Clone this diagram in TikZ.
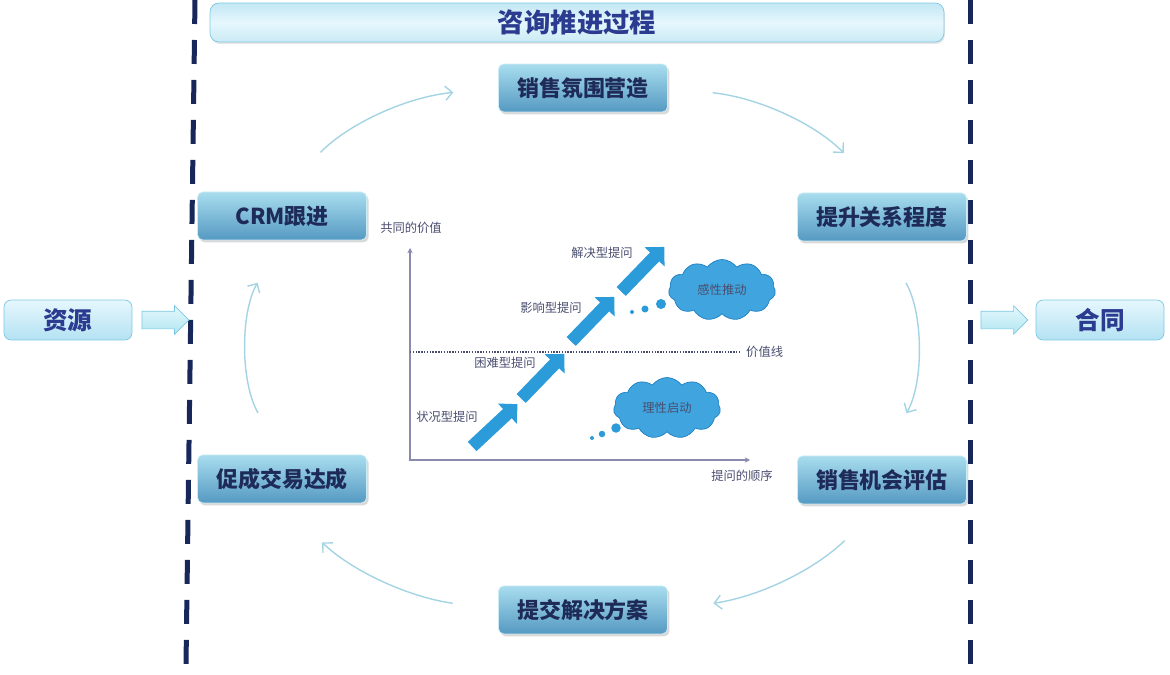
\documentclass[tikz,border=0pt]{standalone}
\usepackage{fontspec}
\newfontfamily\cjk{Noto Sans CJK SC}
\usepackage{tikz}
\usetikzlibrary{positioning, shapes.arrows, shapes.symbols, shadows, arrows.meta}

\definecolor{navy}{HTML}{17275A}
\definecolor{steplight}{HTML}{A8DDEE}
\definecolor{stepdark}{HTML}{5599C2}
\definecolor{steptext}{HTML}{1E2B58}
\definecolor{endlight}{HTML}{E6F7FD}
\definecolor{enddark}{HTML}{B4E2F3}
\definecolor{endedge}{HTML}{7CC8E4}
\definecolor{endtext}{HTML}{2B3B90}
\definecolor{feedfill}{HTML}{BDEEF3}
\definecolor{cycleblue}{HTML}{A4D4E3}
\definecolor{skyblue}{HTML}{2B9BDA}
\definecolor{cloudedge}{HTML}{1E7FC2}
\definecolor{axisgray}{HTML}{8A8AAE}
\definecolor{labelgray}{HTML}{4A4E70}

\begin{document}
\begin{tikzpicture}[x=0.02cm, y=0.02cm, node distance=3cm, on grid, >={Straight Barb[length=4pt, width=8pt]},
    phase/.style={draw=steplight!60!white, rounded corners=3pt, top color=steplight, bottom color=stepdark,
        minimum width=3.38cm, minimum height=0.96cm, text=steptext, font=\cjk\bfseries\fontsize{12.5}{14}\selectfont,
        drop shadow={opacity=0.3, shadow xshift=0.04cm, shadow yshift=-0.05cm}},
    endpoint/.style={draw=endedge, rounded corners=4pt, top color=endlight, bottom color=enddark,
        minimum width=2.56cm, minimum height=0.8cm, text=endtext, font=\cjk\bfseries\fontsize{14}{16}\selectfont},
    feed/.style={single arrow, draw=endedge, top color=endlight, bottom color=feedfill!80!endedge, inner sep=0.17cm,
        minimum height=0.94cm, single arrow head extend=0.11cm},
    flow/.style={->, draw=cycleblue, line width=0.8pt},
    qarrow/.style={single arrow, fill=skyblue, inner sep=0.12cm,
        minimum height=1.24cm, single arrow head extend=0.15cm},
    qlabel/.style={text=labelgray, font=\cjk\fontsize{7}{8}\selectfont},
    thought/.style={cloud, cloud puffs=11, cloud puff arc=110, aspect=1.7, fill=skyblue!90!white, draw=cloudedge,
        minimum width=2.14cm, minimum height=1.22cm, inner sep=0pt, text=labelgray, font=\cjk\fontsize{7}{8}\selectfont},
    dot/.style={circle, fill=skyblue, inner sep=0pt}]

    \useasboundingbox (0,0) rectangle (1170,674);

    % boundary lines
    \draw[navy, line width=0.1cm, dash pattern=on 0.48cm off 0.32cm] (195,674) -- (186,9);
    \draw[navy, line width=0.1cm, dash pattern=on 0.48cm off 0.32cm] (970,674) -- (970,9);

    \node[draw=endedge, rounded corners=5pt, top color=steplight!70!white, bottom color=steplight!60!white, middle color=endlight,
        minimum width=14.68cm, minimum height=0.78cm, text=endtext, font=\cjk\bfseries\fontsize{15}{17}\selectfont,
        drop shadow={opacity=0.2, shadow xshift=0.02cm, shadow yshift=-0.04cm}] (head) at (577,651.5) {咨询推进过程};

    % process steps
    \node[phase] (p_1) at (583,586) {销售氛围营造};
    \node[phase] (p_2) [below right=2.58cm and 5.98cm of p_1] {提升关系程度};
    \node[phase] (p_3) [below=5.26cm of p_2] {销售机会评估};
    \node[phase] (p_4) [below left=2.6cm and 5.98cm of p_3] {提交解决方案};
    \node[phase] (p_5) [above left=2.62cm and 6.02cm of p_4] {促成交易达成};
    \node[phase] (p_6) [above=5.26cm of p_5] {CRM跟进};

    \node[endpoint] (src) at (68,354) {资源};
    \node[feed] (f_1) [right=1.86cm of src] {};
    \node[endpoint] (dst) at (1100,354) {合同};
    \node[feed] (f_2) [left=2.0cm of dst] {};

    \path
    (p_6.north) edge[flow, bend left=20, shorten <=1.1cm, shorten >=0.9cm] (p_1.west)
    (p_1.east) edge[flow, bend left=20, shorten <=0.9cm, shorten >=1.1cm] (p_2.north)
    (p_2.south) edge[flow, bend left=30, shorten <=0.96cm, shorten >=0.98cm] (p_3.north)
    (p_3.south) edge[flow, bend left=18, shorten <=1.04cm, shorten >=0.92cm] (p_4.east)
    (p_4.west) edge[flow, bend left=18, shorten <=0.92cm, shorten >=1.12cm] (p_5.south)
    (p_5.north) edge[flow, bend left=30, shorten <=0.96cm, shorten >=0.98cm] (p_6.south)
    ;

    % question chart
    \coordinate (o) at (410,214);
    \coordinate (ytop) at (410,426);
    \coordinate (xend) at (750,214);
    \draw[axisgray, line width=0.7pt, {Stealth[length=3pt, width=3pt]}-{Stealth[length=3pt, width=3pt]}] (ytop) -- (o) -- (xend);
    \node[qlabel] (ylab) at (411,446) {共同的价值};
    \node[qlabel] (xlab) at (742,198) {提问的顺序};
    \node[qlabel, anchor=west] (vline) at (740,322) {价值线};
    \draw[labelgray, line width=0.7pt, dash pattern=on 0.8pt off 0.8pt] (o |- vline) -- (vline.west);

    \node[qarrow, rotate=43] (a_1) at (492.5,246.5) {};
    \node[qarrow, rotate=46] (a_2) at (540.5,295.5) {};
    \node[qarrow, rotate=46] (a_3) at (590.5,352.5) {};
    \node[qarrow, rotate=46] (a_4) at (640.5,402.5) {};
    \node[qlabel] (l_1) at (447,257) {状况型提问};
    \node[qlabel] (l_2) at (505,311) {困难型提问};
    \node[qlabel] (l_3) at (551,366) {影响型提问};
    \node[qlabel] (l_4) at (602,421) {解决型提问};

    \node[thought] (c_1) at (722,384) {感性推动};
    \node[thought] (c_2) at (667,266) {理性启动};
    \node[dot, minimum size=0.08cm] (b_1) at (632,362) {};
    \node[dot, minimum size=0.14cm] (b_2) at (645,365) {};
    \node[dot, minimum size=0.2cm] (b_3) at (661,370) {};
    \node[dot, minimum size=0.08cm] (b_4) at (592,236) {};
    \node[dot, minimum size=0.13cm] (b_5) at (602,240) {};
    \node[dot, minimum size=0.19cm] (b_6) at (616,246) {};
\end{tikzpicture}
\end{document}
